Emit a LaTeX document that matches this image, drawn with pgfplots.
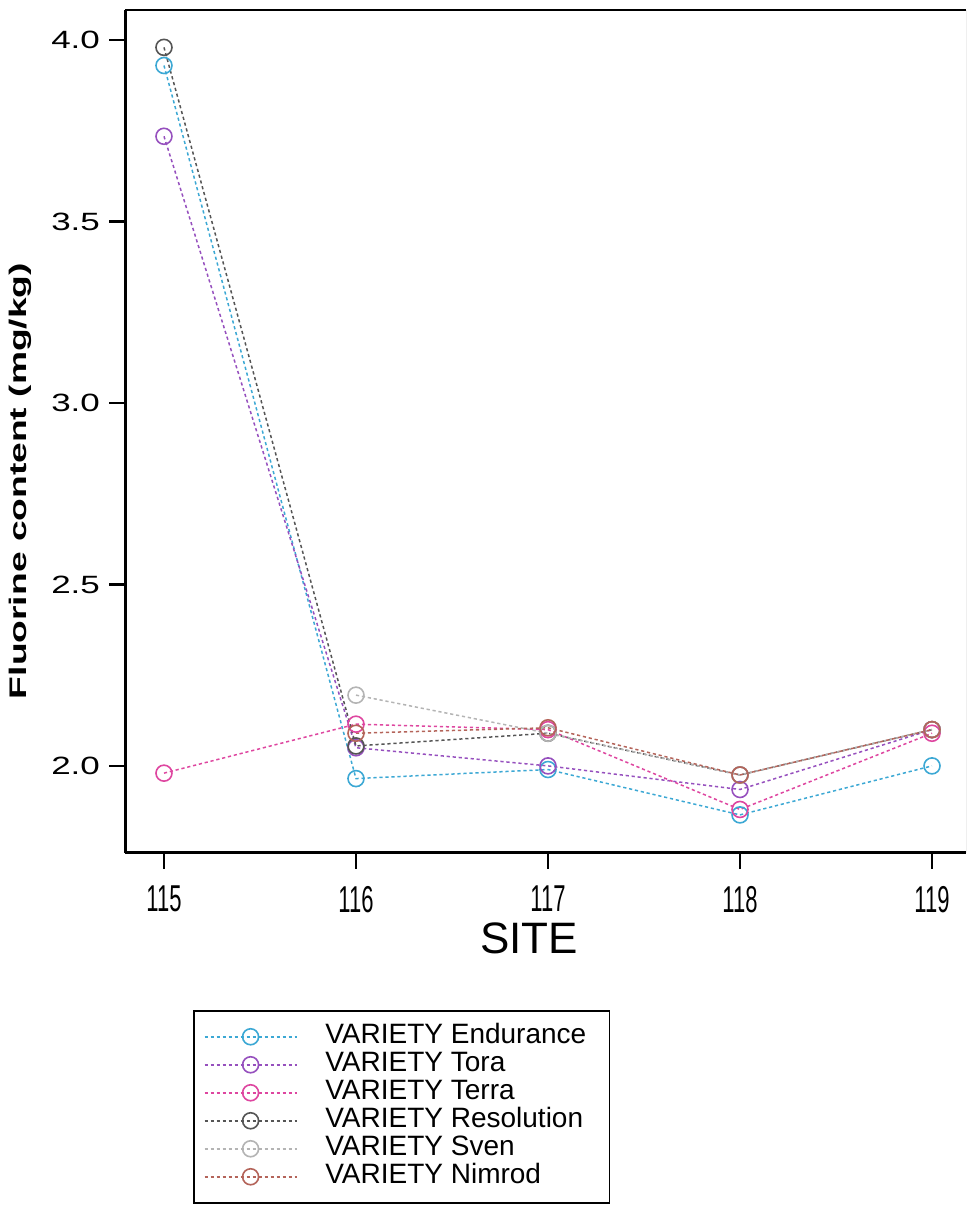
\documentclass[border=0pt]{standalone}
\usepackage{pgfplots}
\pgfplotsset{compat=1.18}
\usepackage{fontspec}
\setmainfont{Liberation Sans}
\definecolor{cEnd}{RGB}{60,168,212}
\definecolor{cTora}{RGB}{150,80,190}
\definecolor{cTerra}{RGB}{222,70,160}
\definecolor{cRes}{RGB}{85,85,85}
\definecolor{cSven}{RGB}{180,180,180}
\definecolor{cNim}{RGB}{180,100,90}
\begin{document}
\begin{tikzpicture}
\path[use as bounding box] (0,0) rectangle (484.5pt,606.5pt);
\begin{axis}[
  at={(62.5pt,180pt)}, anchor=south west,
  scale only axis, width=420.5pt, height=421.5pt,
  xmin=114.797, xmax=119.177, ymin=1.760, ymax=4.083,
  axis x line*=bottom, axis y line*=left,
  axis line style={line width=1.5pt, black},
  tick align=outside,
  major tick length=8pt,
  every tick/.style={black, line width=1.3pt},
  xtick={115,116,117,118,119},
  xticklabels={\scalebox{1}[1.7]{115},\scalebox{1}[1.7]{116},\scalebox{1}[1.7]{117},\scalebox{1}[1.7]{118},\scalebox{1}[1.7]{119}},
  xticklabel style={font=\fontsize{11}{12}\selectfont, yshift=-5pt},
  ytick={2.0,2.5,3.0,3.5,4.0},
  yticklabels={\scalebox{1.4}[1]{2.0},\scalebox{1.4}[1]{2.5},\scalebox{1.4}[1]{3.0},\scalebox{1.4}[1]{3.5},\scalebox{1.4}[1]{4.0}},
  yticklabel style={font=\fontsize{12.5}{14}\selectfont, xshift=-1pt},
  every axis plot/.append style={line width=0.75pt, dash pattern=on 1.6pt off 1.4pt, mark=o, mark size=4pt, mark options={solid, line width=0.8pt}},
  legend style={at={(0.0809,-0.1862)}, anchor=north west, draw=black, line width=0.8pt,
    inner xsep=5pt, inner ysep=6pt,
    font=\fontsize{14}{14}\selectfont,
    nodes={inner sep=0pt, text height=10.3pt, text depth=3.7pt},
    cells={anchor=west}, /tikz/column sep=14pt},
  legend image code/.code={\draw[mark repeat=2,mark phase=2,#1] plot coordinates {(0pt,0pt)(23pt,0pt)(46pt,0pt)};},
]
\addplot[color=cEnd] coordinates {(115,3.93)(116,1.965)(117,1.99)(118,1.865)(119,2.0)};
\addlegendentry{\makebox[137pt][l]{VARIETY Endurance}}
\addplot[color=cTora] coordinates {(115,3.735)(116,2.05)(117,2.0)(118,1.935)(119,2.1)};
\addlegendentry{VARIETY Tora}
\addplot[color=cTerra] coordinates {(115,1.98)(116,2.115)(117,2.10)(118,1.88)(119,2.09)};
\addlegendentry{VARIETY Terra}
\addplot[color=cRes] coordinates {(115,3.98)(116,2.055)(117,2.09)(118,1.975)(119,2.1)};
\addlegendentry{VARIETY Resolution}
\addplot[color=cSven] coordinates {(116,2.195)(117,2.09)(118,1.975)(119,2.1)};
\addlegendentry{VARIETY Sven}
\addplot[color=cNim] coordinates {(116,2.09)(117,2.105)(118,1.975)(119,2.1)};
\addlegendentry{VARIETY Nimrod}
\draw[line width=1.5pt] (rel axis cs:0,1) -- (rel axis cs:1,1);
\draw[line width=0.5pt, gray] (rel axis cs:1,0) -- (rel axis cs:1,1);
\end{axis}
\node at (264.5pt,137.5pt) {\fontsize{22}{24}\selectfont SITE};
\node[rotate=90] at (10pt,366pt) {\fontsize{12}{14}\selectfont\bfseries\scalebox{1.55}[1]{Fluorine content (mg/kg)}};
\end{tikzpicture}
\end{document}
